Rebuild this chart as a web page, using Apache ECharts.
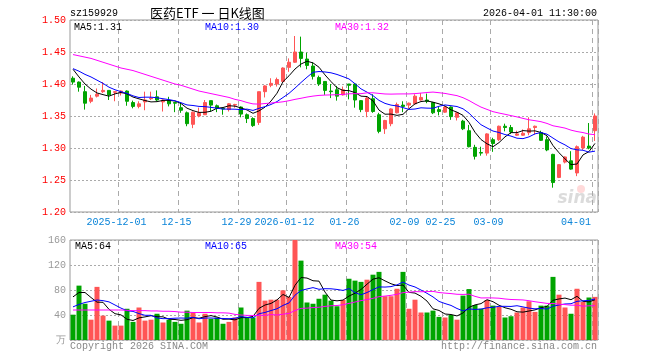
<!DOCTYPE html>
<html><head><meta charset="utf-8">
<script src="https://cdn.jsdelivr.net/npm/echarts@6/dist/echarts.min.js"></script>
<style>html,body{margin:0;padding:0;background:#fff}#c{width:660px;height:360px}</style>
</head><body><div id="c"></div>
<script>
const dates = ['2025-11-19','2025-11-20','2025-11-21','2025-11-24','2025-11-25','2025-11-26','2025-11-27','2025-11-28',
'2025-12-01','2025-12-02','2025-12-03','2025-12-04','2025-12-05','2025-12-08','2025-12-09','2025-12-10','2025-12-11','2025-12-12',
'2025-12-15','2025-12-16','2025-12-17','2025-12-18','2025-12-19','2025-12-22','2025-12-23','2025-12-24','2025-12-25','2025-12-26',
'2025-12-29','2025-12-30','2025-12-31',
'2026-01-05','2026-01-06','2026-01-07','2026-01-08','2026-01-09',
'2026-01-12','2026-01-13','2026-01-14','2026-01-15','2026-01-16',
'2026-01-19','2026-01-20','2026-01-21','2026-01-22','2026-01-23',
'2026-01-26','2026-01-27','2026-01-28','2026-01-29','2026-01-30',
'2026-02-02','2026-02-03','2026-02-04','2026-02-05','2026-02-06',
'2026-02-09','2026-02-10','2026-02-11','2026-02-12','2026-02-13',
'2026-02-24','2026-02-25','2026-02-26','2026-02-27',
'2026-03-02','2026-03-03','2026-03-04','2026-03-05','2026-03-06',
'2026-03-09','2026-03-10','2026-03-11','2026-03-12','2026-03-13',
'2026-03-16','2026-03-17','2026-03-18','2026-03-19','2026-03-20',
'2026-03-23','2026-03-24','2026-03-25','2026-03-26','2026-03-27',
'2026-03-30','2026-03-31','2026-04-01'];

const opens = [1.409,1.403,1.388,1.373,1.381,1.388,1.390,1.387,1.386,1.389,
1.371,1.365,1.372,1.377,1.380,1.372,1.374,1.371,1.363,1.355,
1.337,1.350,1.352,1.374,1.366,1.362,1.360,1.367,1.364,1.352,
1.346,1.340,1.388,1.398,1.400,1.404,1.426,1.434,1.450,1.439,
1.428,1.410,1.404,1.389,1.391,1.383,1.400,1.400,1.374,1.357,
1.377,1.352,1.330,1.338,1.355,1.367,1.367,1.369,1.375,1.375,
1.371,1.360,1.356,1.364,1.348,1.342,1.327,1.301,1.293,1.292,
1.313,1.313,1.334,1.332,1.320,1.320,1.324,1.332,1.324,1.313,
1.290,1.254,1.278,1.280,1.261,1.300,1.303,1.327];
const closes = [1.403,1.395,1.370,1.378,1.384,1.390,1.383,1.388,1.389,1.373,
1.365,1.369,1.375,1.378,1.375,1.375,1.369,1.370,1.359,1.338,
1.356,1.355,1.371,1.367,1.362,1.361,1.369,1.368,1.353,1.346,
1.335,1.388,1.397,1.401,1.407,1.425,1.434,1.450,1.440,1.429,
1.412,1.400,1.390,1.388,1.381,1.391,1.398,1.375,1.360,1.378,
1.357,1.326,1.343,1.361,1.368,1.365,1.370,1.381,1.379,1.373,
1.355,1.357,1.364,1.349,1.355,1.330,1.302,1.287,1.292,1.322,
1.307,1.334,1.332,1.325,1.322,1.323,1.330,1.334,1.312,1.297,
1.246,1.274,1.286,1.267,1.302,1.317,1.300,1.350];
const lows = [1.399,1.388,1.360,1.370,1.379,1.386,1.375,1.373,1.382,1.366,
1.362,1.362,1.359,1.375,1.373,1.357,1.365,1.356,1.355,1.334,
1.331,1.348,1.352,1.357,1.356,1.352,1.357,1.363,1.348,1.339,
1.333,1.336,1.379,1.395,1.396,1.403,1.419,1.433,1.426,1.423,
1.407,1.397,1.383,1.378,1.374,1.382,1.376,1.363,1.356,1.348,
1.355,1.323,1.322,1.334,1.354,1.356,1.362,1.368,1.374,1.370,
1.353,1.351,1.355,1.344,1.343,1.328,1.301,1.282,1.288,1.288,
1.294,1.311,1.326,1.322,1.319,1.319,1.320,1.321,1.311,1.295,
1.238,1.253,1.276,1.266,1.256,1.297,1.298,1.311];
const highs = [1.412,1.404,1.397,1.383,1.393,1.403,1.390,1.389,1.390,1.390,
1.374,1.373,1.388,1.388,1.390,1.376,1.380,1.371,1.371,1.357,
1.357,1.363,1.375,1.374,1.368,1.363,1.370,1.369,1.365,1.354,
1.348,1.388,1.398,1.409,1.410,1.426,1.440,1.475,1.474,1.449,
1.434,1.413,1.404,1.400,1.397,1.396,1.400,1.401,1.375,1.380,
1.384,1.355,1.344,1.362,1.371,1.373,1.371,1.384,1.386,1.385,
1.372,1.365,1.366,1.365,1.356,1.344,1.336,1.305,1.302,1.323,
1.316,1.335,1.338,1.336,1.327,1.329,1.348,1.335,1.327,1.318,
1.291,1.275,1.287,1.295,1.304,1.319,1.339,1.354];
const volumes = [40.5,87,58,32.5,85,39,31,23,23,50,
29,52,31,32.5,42,28,32.5,29,26,47,
44,28,42,34,36,26,29,36,52,36,
36,93,63,64.5,64.5,79.5,69,160,127,60,
58,66,72.5,63,54,64,98,95,93,96.5,
104.5,109,70,70,82,109,50,64.5,44,44,
47,37,36,40,32.5,71,81.5,56,50,64,
55,53,36,38,44,52,62,45,55,55,
101,72.5,52,42,82,61,68,69];

// moving-average values at the start of the window (their history lies before the first visible day)
const ma5Head = [1.423,1.411,1.400,1.392];
const ma10Head = [1.424,1.420,1.415,1.411,1.406,1.401,1.395,1.391,1.388];
const ma30Head = [1.446,1.444,1.442,1.440,1.437,1.434,1.431,1.428,1.425,1.423,1.421,1.418,1.415,1.412,1.409,1.406,1.403,1.400,1.398,1.395,1.392,1.389,1.387,1.385,1.383,1.381,1.379,1.376,1.374];
const vma5Head = [69,76,76,68];
const vma10Head = [53,57,60,62,64,63,61,56,51];
const vma30Head = [48,48,48,48,48,48,48,48,48,47.5,47,47,47,46.5,46.5,46,46,45.5,44.5,44.5,44,44,44,44,43.5,43.5,43,41,40];

const priceTicks = {min:1.20, max:1.50, step:0.05};
const volTicks = {min:0, max:160, step:40};
const labelIdx = [8,18,28,36,46,56,62,70,87];

function ma(arr, n, head){
  return arr.map((v,i)=>{
    if(i<n-1) return head[i];
    let s=0; for(let j=i-n+1;j<=i;j++) s+=arr[j];
    return +(s/n).toFixed(4);
  });
}
const m5=ma(closes,5,ma5Head), m10=ma(closes,10,ma10Head), m30=ma(closes,30,ma30Head);
const v5=ma(volumes,5,vma5Head), v10=ma(volumes,10,vma10Head), v30=ma(volumes,30,vma30Head);

const UP='#ff5555', DOWN='#00a400';
const MONO='"Liberation Mono", "DejaVu Sans Mono", monospace';
const kdata = dates.map((d,i)=>[opens[i],closes[i],lows[i],highs[i]]);
const vdata = volumes.map((v,i)=>({value:v, itemStyle:{color: closes[i]>=opens[i]?UP:DOWN}}));
const labelSet = new Set(labelIdx);
const fullSet = new Set();
{ let prevYear=null; labelIdx.forEach(i=>{const y=dates[i].slice(0,4); if(y!==prevYear) fullSet.add(i); prevYear=y;}); }

const chart = echarts.init(document.getElementById('c'));
const gridLineV = {show:true, interval:(i)=>labelSet.has(i), lineStyle:{color:'#aaa', type:[5,4], width:1}};
const option = {
  animation:false,
  backgroundColor:'#fff',
  grid:[
    {left:70, top:20, width:528, height:192, show:true, borderColor:'#999', borderWidth:1},
    {left:70, top:240, width:528, height:100, show:true, borderColor:'#999', borderWidth:1}
  ],
  xAxis:[
    {type:'category', gridIndex:0, data:dates, boundaryGap:true,
     axisLine:{show:false}, axisTick:{show:false},
     axisLabel:{show:true, interval:(i)=>labelSet.has(i), margin:5,
       formatter:(v,i)=>{const t = fullSet.has(i)? v : v.slice(5); return (i===dates.length-1?'{b|':'{a|')+t+'}';},
       rich:{a:{color:'#0a84d8', fontFamily:MONO, fontSize:10, padding:[0,9,0,0]},
             b:{color:'#0a84d8', fontFamily:MONO, fontSize:10, padding:[0,38,0,0]}}},
     splitLine:gridLineV},
    {type:'category', gridIndex:1, data:dates, boundaryGap:true,
     axisLine:{show:false}, axisTick:{show:false}, axisLabel:{show:false}, splitLine:gridLineV}
  ],
  yAxis:[
    {type:'value', gridIndex:0, min:priceTicks.min, max:priceTicks.max, interval:priceTicks.step,
     axisLine:{show:false}, axisTick:{show:false},
     axisLabel:{color:'#ff0000', fontFamily:MONO, fontSize:10, margin:4, formatter:v=>v.toFixed(2)},
     splitLine:{show:true, lineStyle:{color:'#aaa', type:[2,2]}}},
    {type:'value', gridIndex:1, min:volTicks.min, max:volTicks.max, interval:volTicks.step,
     axisLine:{show:false}, axisTick:{show:false},
     axisLabel:{color:'#999', fontFamily:MONO, fontSize:10, margin:4, formatter:v=>v===0?'万':String(v)},
     splitLine:{show:true, lineStyle:{color:'#aaa', type:[2,2]}}}
  ],
  series:[
    {type:'candlestick', xAxisIndex:0, yAxisIndex:0, data:kdata, barWidth:4,
     itemStyle:{color:UP, color0:DOWN, borderColor:UP, borderColor0:DOWN, borderWidth:1}},
    {type:'line', xAxisIndex:0, yAxisIndex:0, data:m5, symbol:'none', lineStyle:{color:'#000', width:1}, z:5},
    {type:'line', xAxisIndex:0, yAxisIndex:0, data:m10, symbol:'none', lineStyle:{color:'#0000ff', width:1}, z:5},
    {type:'line', xAxisIndex:0, yAxisIndex:0, data:m30, symbol:'none', lineStyle:{color:'#ff00ff', width:1}, z:5},
    {type:'bar', xAxisIndex:1, yAxisIndex:1, data:vdata, barWidth:5},
    {type:'line', xAxisIndex:1, yAxisIndex:1, data:v5, symbol:'none', lineStyle:{color:'#000', width:1}, z:5},
    {type:'line', xAxisIndex:1, yAxisIndex:1, data:v10, symbol:'none', lineStyle:{color:'#0000ff', width:1}, z:5},
    {type:'line', xAxisIndex:1, yAxisIndex:1, data:v30, symbol:'none', lineStyle:{color:'#ff00ff', width:1}, z:5}
  ],
  graphic:[
    {type:'text', x:70, y:13, style:{text:'sz159929', font:'10px '+MONO, fill:'#000', verticalAlign:'middle'}},
    {type:'text', x:150, y:13, style:{text:'医药ETF\u00a0一\u00a0日K线图', font:'13px "Noto Sans CJK SC"', fill:'#000', verticalAlign:'middle'}},
    {type:'text', x:597, y:13, style:{text:'2026-04-01 11:30:00', font:'10px '+MONO, fill:'#000', align:'right', verticalAlign:'middle'}},
    {type:'text', x:74, y:27, z:10, style:{text:'MA5:'+m5[m5.length-1].toFixed(2), font:'10px '+MONO, fill:'#000', verticalAlign:'middle'}},
    {type:'text', x:205, y:27, z:10, style:{text:'MA10:'+m10[m10.length-1].toFixed(2), font:'10px '+MONO, fill:'#0000ff', verticalAlign:'middle'}},
    {type:'text', x:335, y:27, z:10, style:{text:'MA30:'+m30[m30.length-1].toFixed(2), font:'10px '+MONO, fill:'#ff00ff', verticalAlign:'middle'}},
    {type:'text', x:75, y:246, z:10, style:{text:'MA5:'+Math.floor(v5[v5.length-1]), font:'10px '+MONO, fill:'#000', verticalAlign:'middle'}},
    {type:'text', x:205, y:246, z:10, style:{text:'MA10:'+Math.floor(v10[v10.length-1]), font:'10px '+MONO, fill:'#0000ff', verticalAlign:'middle'}},
    {type:'text', x:335, y:246, z:10, style:{text:'MA30:'+Math.floor(v30[v30.length-1]), font:'10px '+MONO, fill:'#ff00ff', verticalAlign:'middle'}},
    {type:'text', x:70, y:346, style:{text:'Copyright 2026 SINA.COM', font:'10px '+MONO, fill:'#888', verticalAlign:'middle'}},
    {type:'text', x:597, y:346, style:{text:'http://finance.sina.com.cn', font:'10px '+MONO, fill:'#888', align:'right', verticalAlign:'middle'}},
    {type:'circle', x:581, y:189, z:0, shape:{r:4}, style:{fill:'rgba(255,150,150,0.35)'}},
    {type:'text', x:597, y:199, z:0, style:{text:'sina', font:'italic bold 17px "DejaVu Sans"', fill:'rgba(190,190,190,0.55)', align:'right', verticalAlign:'middle'}}
  ]
};
chart.setOption(option);
</script></body></html>
